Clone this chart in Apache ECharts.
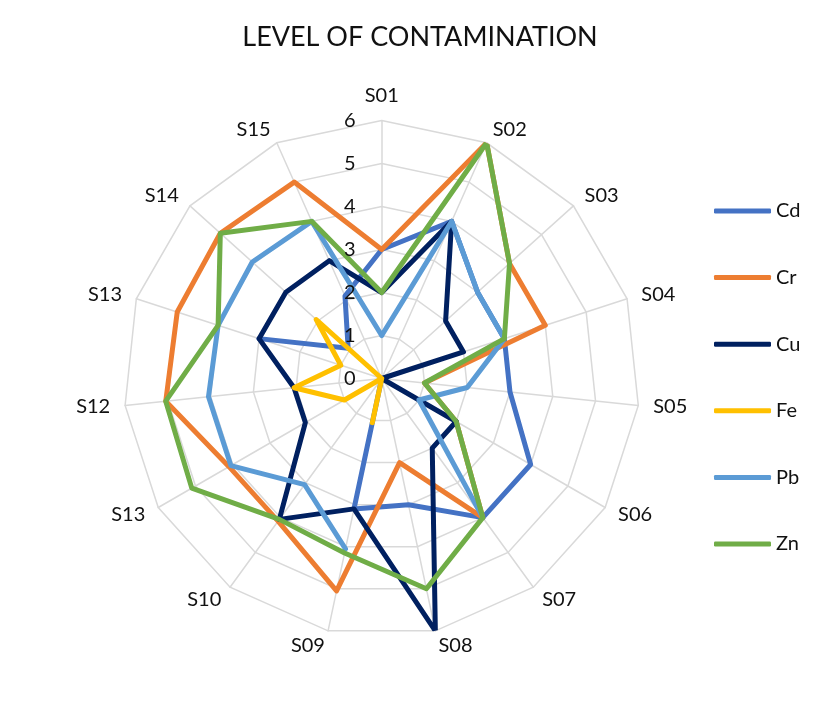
<!DOCTYPE html>
<html>
<head>
<meta charset="utf-8">
<script src="https://cdn.jsdelivr.net/npm/echarts@6/dist/echarts.min.js"></script>
<style>
html,body{margin:0;padding:0;background:#fff;}
#chart{width:823px;height:722px;}
</style>
</head>
<body>
<div id="chart"></div>
<script>
// Categories (clockwise from top)
const categories = ['S01','S02','S03','S04','S05','S06','S07','S08','S09','S10','S13','S12','S13','S14','S15'];
const tickLabels = [0,1,2,3,4,5,6];
const seriesNames = ['Cd','Cr','Cu','Fe','Pb','Zn'];
// Values per category (null = empty cell, shown as a gap)
const cd = [3, 4, 3, 3, 3, 4, 4, 3, 3.1, 0, null, null, 3, 1.05, 2.1];
const cr = [3, 6, 4, 4, 1, 2, 4, 2, 5.05, 4.1, 4.1, 5.05, 5, 5.05, 5];
const cu = [2, 4, 2, 2, 0, 2, 2, 6, 3.1, 4.05, 2.05, 2.05, 3, 3, 3];
const fe = [0, 0, 0, 0, 0, 0, 0, 0, 1.05, 0, 1, 2.05, 1, 2.05, 0];
const pb = [1, 4, 3, 3, 2, 1, 4, null, 4.05, 3.05, 4.05, 4.05, 4, 4.05, 4];
const zn = [2, 6, 4, 3, 1, 2, 4, 5, 4.15, 4.05, 5.1, 5.05, 4, 5.05, 4];

const colors = ['#4472C4','#ED7D31','#002060','#FFC000','#5B9BD5','#70AD47'];
const allValues = [cd, cr, cu, fe, pb, zn];

const FONT = 'Lato, "Liberation Sans", sans-serif';
const CX = 381.7, CY = 378.5, R = 258;
const n = categories.length;
const step = 360 / n;

// radar draws indicators counter-clockwise, so feed them reversed to run clockwise
const indicatorOrder = [0];
for (let i = n - 1; i >= 1; i--) indicatorOrder.push(i);
const indicators = indicatorOrder.map(i => ({ name: categories[i], min: 0, max: tickLabels[tickLabels.length - 1] }));

function toPolar(vals) {
  const out = vals.map((v, i) => [v === null ? '-' : v, i * step]);
  out.push([vals[0] === null ? '-' : vals[0], 360]);
  return out;
}

const series = seriesNames.map((name, si) => ({
  name: name,
  type: 'line',
  coordinateSystem: 'polar',
  polarIndex: 0,
  data: toPolar(allValues[si]),
  symbol: 'none',
  connectNulls: false,
  smooth: false,
  clip: false,
  lineStyle: { width: 5, color: colors[si], join: 'round', cap: 'round' },
  itemStyle: { color: colors[si] },
  z: 3 + si
}));

const chart = echarts.init(document.getElementById('chart'), null, { renderer: 'canvas' });
chart.setOption({
  animation: false,
  color: colors,
  title: {
    text: 'LEVEL OF CONTAMINATION',
    left: 415,
    top: 19,
    textAlign: 'center',
    textStyle: { fontFamily: FONT, fontSize: 27, fontWeight: 'normal', color: '#111' }
  },
  legend: {
    orient: 'vertical',
    left: 709,
    top: 196,
    itemWidth: 57,
    itemHeight: 5,
    itemGap: 46.6,
    icon: 'roundRect',
    data: seriesNames,
    textStyle: { fontFamily: FONT, fontSize: 20, lineHeight: 20, color: '#111' }
  },
  radar: {
    center: [CX, CY],
    radius: R,
    startAngle: 90,
    shape: 'polygon',
    splitNumber: tickLabels.length - 1,
    indicator: indicators,
    nameGap: 15,
    axisName: { fontFamily: FONT, fontSize: 20, color: '#111' },
    axisLine: { lineStyle: { color: '#D9D9D9', width: 1.5 } },
    splitLine: { lineStyle: { color: '#D9D9D9', width: 1.5 } },
    splitArea: { show: false },
    axisTick: { show: false },
    axisLabel: { show: false }
  },
  polar: { center: [CX, CY], radius: R },
  angleAxis: { type: 'value', min: 0, max: 360, startAngle: 90, clockwise: true, show: false },
  radiusAxis: {
    type: 'value',
    min: tickLabels[0],
    max: tickLabels[tickLabels.length - 1],
    interval: 1,
    axisLine: { show: false },
    axisTick: { show: false },
    splitLine: { show: false },
    axisLabel: { margin: 26, fontFamily: FONT, fontSize: 20, color: '#111' },
    z: 10
  },
  series: series
});
</script>
</body>
</html>
